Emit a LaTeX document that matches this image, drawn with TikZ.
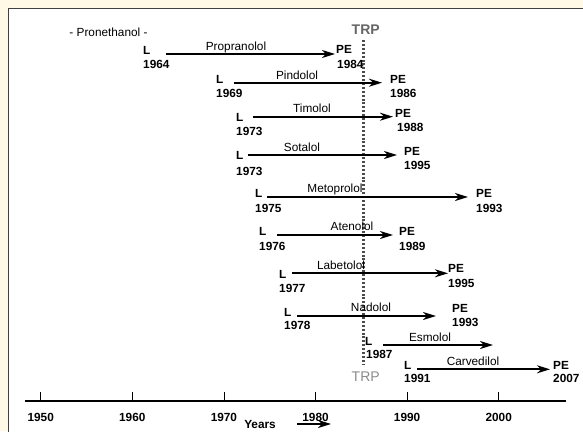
\documentclass[tikz,border=0pt]{standalone}
\usepackage{fontspec}
\setmainfont{Liberation Sans}
\usepackage{xcolor}
\usetikzlibrary{arrows.meta,positioning}
\definecolor{cream}{RGB}{255,249,230}

\begin{document}
\begin{tikzpicture}[x=1pt, y=-1pt,
  lab/.style={inner sep=0pt, font=\fontsize{11.8}{14}\selectfont\bfseries, anchor=base west},
  drug/.style={inner sep=0pt, font=\fontsize{11.8}{14}\selectfont, anchor=base},
  arr/.style={-{Stealth[length=13pt, width=8pt, inset=4pt]}, line width=1.8pt},
  trpline/.style={draw=black!70, line width=2.8pt, dash pattern=on 2pt off 1.9pt},
  trplab/.style={inner sep=0pt, font=\fontsize{14}{16}\selectfont, anchor=base},
  yrlab/.style={inner sep=0pt, font=\fontsize{11.8}{14}\selectfont\bfseries, anchor=base},
  tick/.style={line width=0.8pt}
]

\useasboundingbox (0,0) rectangle (583,431);
\clip (0,0) rectangle (583,431);
\fill[cream] (0,0) rectangle (583,431);
\draw[fill=white, draw=black!75, line width=1.8pt] (8.5,8.5) rectangle (600,450);

% TRP marker
\node[trplab, font=\fontsize{14}{16}\selectfont\bfseries, text=black!60] (trptop) at (365.7,34) {TRP};
\node[trplab, text=black!45] (trpbot) at (365.7,381) {TRP};
\coordinate (trp1) at (363.5,40);
\coordinate (trp2) at (363.5,364);
\draw[trpline] (trp1) -- (trp2);

\node[drug] (prone) at (108.5,36) {- Pronethanol -};

% Propranolol
\node[lab] (lprop) at (143,54) {L};
\node[lab] (lpropyr) at (143,68) {1964};
\node[drug] (nprop) at (236,50.2) {Propranolol};
\node[lab] (peprop) at (336,53) {PE};
\node[lab] (pepropyr) at (337,68) {1984};
\coordinate (sprop) at (166,54);
\coordinate (eprop) at (335,54);
\draw[arr] (sprop) -- (eprop);

% Pindolol
\node[lab] (lpind) at (216,83) {L};
\node[lab] (lpindyr) at (216,97) {1969};
\node[drug] (npind) at (297,79.2) {Pindolol};
\node[lab] (pepind) at (390,83) {PE};
\node[lab] (pepindyr) at (390,97) {1986};
\coordinate (spind) at (234,82.7);
\coordinate (epind) at (382,82.7);
\draw[arr] (spind) -- (epind);

% Timolol
\node[lab] (ltim) at (236,121) {L};
\node[lab] (ltimyr) at (236,135) {1973};
\node[drug] (ntim) at (312,112.2) {Timolol};
\node[lab] (petim) at (395,117) {PE};
\node[lab] (petimyr) at (397,131) {1988};
\coordinate (stim) at (253,116.7);
\coordinate (etim) at (393,116.7);
\draw[arr] (stim) -- (etim);

% Sotalol
\node[lab] (lsot) at (236,159) {L};
\node[lab] (lsotyr) at (236,175) {1973};
\node[drug] (nsot) at (302,151) {Sotalol};
\node[lab] (pesot) at (404,155) {PE};
\node[lab] (pesotyr) at (404,169) {1995};
\coordinate (ssot) at (248,155);
\coordinate (esot) at (397,155);
\draw[arr] (ssot) -- (esot);

% Metoprolol
\node[lab] (lmet) at (255,197) {L};
\node[lab] (lmetyr) at (255,212) {1975};
\node[drug] (nmet) at (335,192.2) {Metoprolol};
\node[lab] (pemet) at (476,197) {PE};
\node[lab] (pemetyr) at (476,212) {1993};
\coordinate (smet) at (267,197);
\coordinate (emet) at (468,197);
\draw[arr] (smet) -- (emet);

% Atenolol
\node[lab] (laten) at (259,235) {L};
\node[lab] (latenyr) at (259,250) {1976};
\node[drug] (naten) at (352,230.2) {Atenolol};
\node[lab] (peaten) at (399,235) {PE};
\node[lab] (peatenyr) at (399,250) {1989};
\coordinate (saten) at (277,235);
\coordinate (eaten) at (393,235);
\draw[arr] (saten) -- (eaten);

% Labetolol
\node[lab] (llab) at (279,278) {L};
\node[lab] (llabyr) at (279,292) {1977};
\node[drug] (nlab) at (341,269.2) {Labetolol};
\node[lab] (pelab) at (448,272) {PE};
\node[lab] (pelabyr) at (448,287) {1995};
\coordinate (slab) at (292,273.3);
\coordinate (elab) at (448,273.3);
\draw[arr] (slab) -- (elab);

% Nadolol
\node[lab] (lnad) at (284,316) {L};
\node[lab] (lnadyr) at (284,329) {1978};
\node[drug] (nnad) at (371,311) {Nadolol};
\node[lab] (penad) at (452,312.5) {PE};
\node[lab] (penadyr) at (452,326) {1993};
\coordinate (snad) at (297,316);
\coordinate (enad) at (436,316);
\draw[arr] (snad) -- (enad);

% Esmolol
\node[lab] (lesm) at (365,345) {L};
\node[lab] (lesmyr) at (366,358) {1987};
\node[drug] (nesm) at (430,341) {Esmolol};
\coordinate (sesm) at (383,345);
\coordinate (eesm) at (493,345);
\draw[arr] (sesm) -- (eesm);

% Carvedilol
\node[lab] (lcar) at (404,369) {L};
\node[lab] (lcaryr) at (404,382.5) {1991};
\node[drug] (ncar) at (473,365) {Carvedilol};
\node[lab] (pecar) at (553,369) {PE};
\node[lab] (pecaryr) at (553,382.5) {2007};
\coordinate (scar) at (417,369.3);
\coordinate (ecar) at (550,369.3);
\draw[arr] (scar) -- (ecar);

% time axis
\coordinate (axl) at (25,401);
\coordinate (axr) at (566,401);
\draw[line width=2pt] (axl) -- (axr);
\node[yrlab] (y1950) at (40.7,421) {1950};
\node[yrlab] (y1960) at (132.3,421) {1960};
\node[yrlab] (y1970) at (223.9,421) {1970};
\node[yrlab] (y1980) at (315.5,421) {1980};
\node[yrlab] (y1990) at (407.1,421) {1990};
\node[yrlab] (y2000) at (498.7,421) {2000};
\draw[tick] (y1950 |- axl) -- ++(0,-9);
\draw[tick] (y1960 |- axl) -- ++(0,-9);
\draw[tick] (y1970 |- axl) -- ++(0,-9);
\draw[tick] (y1980 |- axl) -- ++(0,-9);
\draw[tick] (y1990 |- axl) -- ++(0,-9);
\draw[tick] (y2000 |- axl) -- ++(0,-9);

\node[yrlab] (years) at (260,428) {Years};
\coordinate (ya1) at (297,424);
\coordinate (ya2) at (331,424);
\draw[arr] (ya1) -- (ya2);

\end{tikzpicture}
\end{document}
